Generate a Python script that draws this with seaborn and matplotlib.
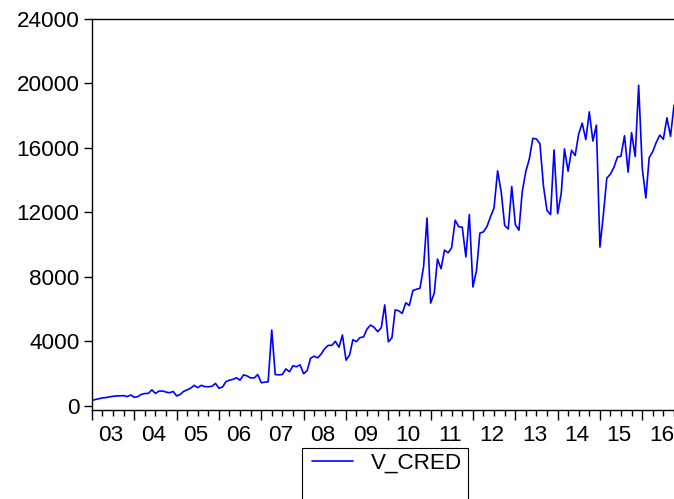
import matplotlib
matplotlib.use("Agg")
import matplotlib.pyplot as plt
import matplotlib.dates as mdates
import matplotlib.transforms as mtransforms
from matplotlib.patches import Rectangle
import seaborn as sns
import pandas as pd

# monthly series, 2003M01 .. 2016M10
start_month = "2003-01-01"
v_cred = [
    350, 400, 450, 500, 520, 560, 600, 620, 630, 640, 580, 680,
    540, 580, 720, 770, 780, 1000, 780, 920, 930, 860, 820, 900,
    620, 720, 900, 1000, 1100, 1280, 1130, 1280, 1200, 1190, 1220, 1400,
    1100, 1180, 1500, 1600, 1650, 1750, 1600, 1930, 1860, 1740, 1740, 1950,
    1440, 1480, 1500, 4710, 1950, 1930, 1950, 2300, 2120, 2490, 2430, 2550,
    2000, 2200, 2960, 3090, 2980, 3230, 3560, 3760, 3760, 4010, 3640, 4400,
    2840, 3170, 4110, 3990, 4240, 4280, 4770, 5020, 4870, 4610, 4850, 6270,
    3980, 4220, 5960, 5900, 5740, 6400, 6230, 7160, 7240, 7300, 8620, 11660,
    6380, 6990, 9110, 8510, 9670, 9500, 9810, 11520, 11110, 11090, 9240, 11870,
    7380, 8410, 10720, 10800, 11130, 11740, 12280, 14580, 13270, 11190, 10980, 13610,
    11250, 10900, 13270, 14540, 15300, 16600, 16560, 16270, 13610, 12130, 11870, 15880,
    11930, 13200, 15940, 14560, 15860, 15530, 16860, 17540, 16520, 18240, 16430, 17420,
    9850, 11970, 14130, 14380, 14790, 15440, 15490, 16760, 14500, 16950, 15470, 19890,
    14750, 12900, 15400, 15780, 16350, 16800, 16540, 17870, 16720, 18650,
]
year_labels = ["03", "04", "05", "06", "07", "08", "09",
               "10", "11", "12", "13", "14", "15", "16"]
y_ticks = [0, 4000, 8000, 12000, 16000, 20000, 24000]

df = pd.DataFrame({
    "date": pd.date_range(start_month, periods=len(v_cred), freq="MS"),
    "V_CRED": v_cred,
})

sns.set_style("white")
plt.rcParams["font.family"] = ["Liberation Sans", "DejaVu Sans"]
fs = 16.2

fig = plt.figure(figsize=(6.74, 4.99), dpi=100)
ax = fig.add_axes([92 / 674, 1 - 410 / 499, 1 - 92 / 674, (410 - 19) / 499])

sns.lineplot(data=df, x="date", y="V_CRED", color="#0000ff", lw=1.2,
             ax=ax, label="V_CRED", legend=False)

ax.set_xlim(df["date"].iloc[0], df["date"].iloc[-1])
ax.set_ylim(-250, 24000)
ax.set_yticks(y_ticks)
ax.set_yticklabels([str(v) for v in y_ticks])
ax.set_xlabel("")
ax.set_ylabel("")

ax.xaxis.set_major_locator(mdates.YearLocator())
ax.xaxis.set_minor_locator(mdates.MonthLocator(bymonth=[4, 7, 10]))
ax.xaxis.set_major_formatter(plt.NullFormatter())
ax.tick_params(axis="x", which="major", direction="out", length=7, width=1.0,
               color="black", bottom=True)
ax.tick_params(axis="x", which="minor", direction="out", length=4, width=1.0,
               color="black", bottom=True)
ax.tick_params(axis="y", which="major", direction="out", length=6, width=1.0,
               color="black", left=True, labelsize=fs, labelcolor="black", pad=3)

# year labels centred on each year
trans = mtransforms.blended_transform_factory(ax.transData, ax.transAxes)
for lab in year_labels:
    xpos = mdates.date2num(pd.Timestamp(f"20{lab}-06-16"))
    ax.text(xpos, -0.066, lab, transform=trans, ha="center", va="center",
            fontsize=fs, color="black")

for side in ["left", "bottom", "top"]:
    ax.spines[side].set_color("black")
    ax.spines[side].set_linewidth(1.0)
ax.spines["right"].set_visible(False)

# legend: frame runs off the bottom of the picture, as in the original
fig.legend(handles=ax.get_lines(), labels=["V_CRED"], loc="upper center",
           bbox_to_anchor=(387 / 674, 1 - 449 / 499), fontsize=fs,
           frameon=False, handlelength=1.8, borderpad=0.15,
           borderaxespad=0, handletextpad=0.8, labelcolor="black")
fig.patches.append(Rectangle((302 / 674, -0.05), (468 - 302) / 674,
                             1 - 448 / 499 + 0.05, transform=fig.transFigure,
                             fill=False, edgecolor="black", lw=0.8))

fig.savefig("out.png", dpi=100)
